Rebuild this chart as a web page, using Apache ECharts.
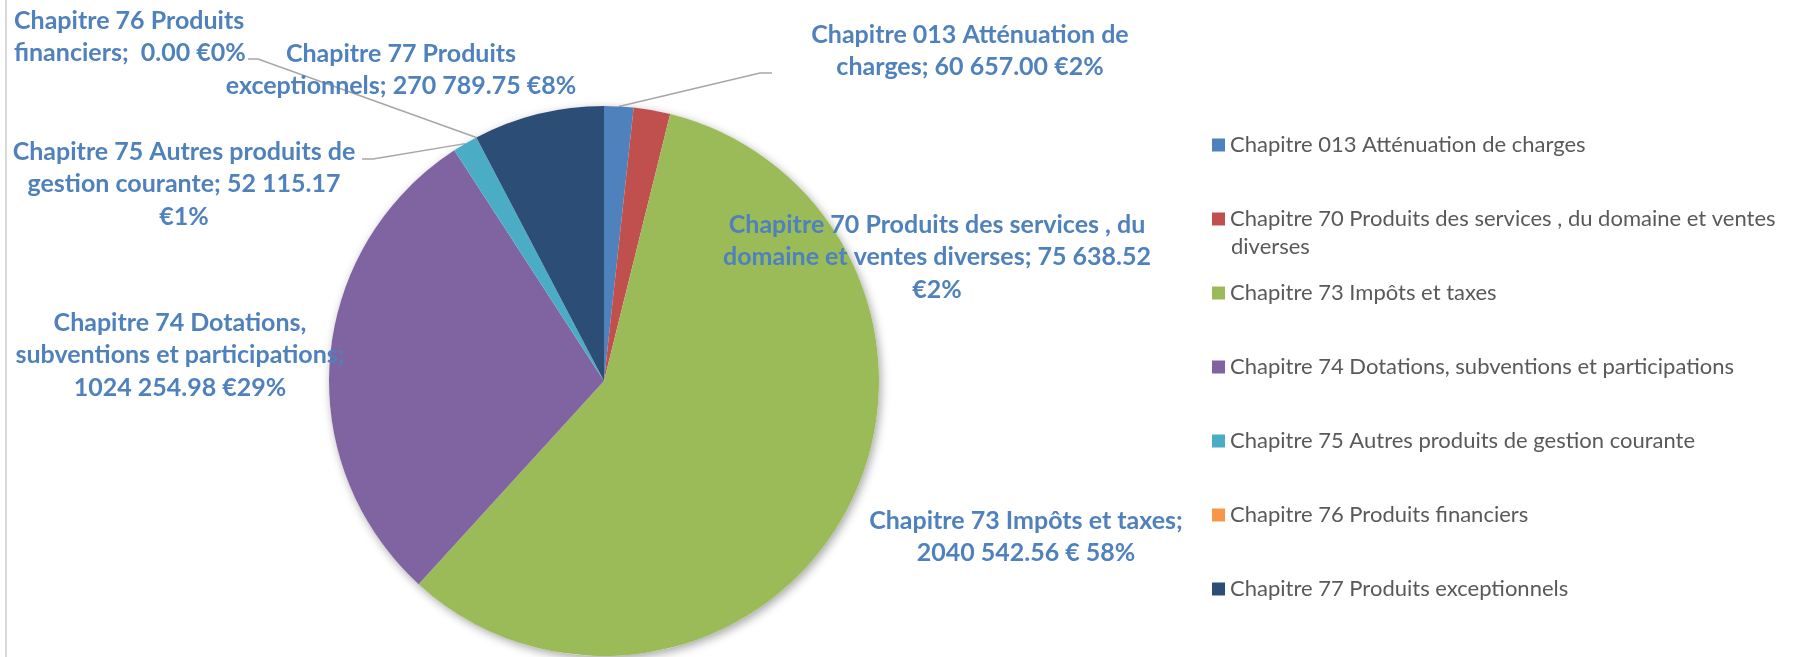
<!DOCTYPE html>
<html>
<head>
<meta charset="utf-8">
<script src="https://cdn.jsdelivr.net/npm/echarts@6/dist/echarts.min.js"></script>
<style>
  html, body { margin: 0; padding: 0; background: #fff; }
  #main { width: 1803px; height: 657px; }
</style>
</head>
<body>
<div id="main"></div>
<script>
// chapitres budgétaires (recettes)
const chapitres = [
  'Chapitre 013 Atténuation de charges',
  'Chapitre 70 Produits des services , du domaine et ventes diverses',
  'Chapitre 73 Impôts et taxes',
  'Chapitre 74 Dotations, subventions et participations',
  'Chapitre 75 Autres produits de gestion courante',
  'Chapitre 76 Produits financiers',
  'Chapitre 77 Produits exceptionnels'
]
const montants = [60657.00, 75638.52, 2040542.56, 1024254.98, 52115.17, 0.00, 270789.75]

// texte des étiquettes, {v} = montant, {p} = pourcentage
const etiquettes = [
  'Chapitre 013 Atténuation de\ncharges; {v} €{p}%',
  'Chapitre 70 Produits des services , du\ndomaine et ventes diverses; {v}\n€{p}%',
  'Chapitre 73 Impôts et taxes;\n{v} € {p}%',
  'Chapitre 74 Dotations,\nsubventions et participations;\n{v} €{p}%',
  'Chapitre 75 Autres produits de\ngestion courante; {v}\n€{p}%',
  'Chapitre 76 Produits\nfinanciers;  {v} €{p}%',
  'Chapitre 77 Produits\nexceptionnels; {v} €{p}%'
]

const couleurs = ['#4f81bd', '#c0504d', '#9bbb59', '#8064a2', '#4bacc6', '#f79646', '#2c4d75']

// positions des étiquettes (placées à la main comme dans Excel)
const posEtiquettes = [
  { x: 970, y: 51, align: 'center' },
  { x: 937, y: 257, align: 'center' },
  { x: 1026, y: 537, align: 'center' },
  { x: 180, y: 355, align: 'center' },
  { x: 184, y: 184, align: 'center' },
  { x: 14, y: 37, align: 'left' },
  { x: 401, y: 70, align: 'center' }
]
// fin des traits de rappel (coude puis extrémité côté étiquette)
const traits = [
  [[760, 73], [772, 73]],
  null,
  null,
  null,
  [[373, 159], [362, 159]],
  [[258, 59], [248, 59]],
  null
]

function formatMontant (v) {
  let s = v.toFixed(2)
  let ent = s.split('.')[0]
  let dec = s.split('.')[1]
  if (ent.length > 3) ent = ent.slice(0, ent.length - 3) + ' ' + ent.slice(ent.length - 3)
  return ent + '.' + dec
}

let chart = echarts.init(document.getElementById('main'))

let pieData = chapitres.map((name, i) => ({
  name: name,
  value: montants[i],
  itemStyle: { color: couleurs[i] },
  labelLine: { show: traits[i] != null }
}))
let total = montants.reduce((a, b) => a + b, 0)

chart.setOption({
  animation: false,
  backgroundColor: '#fff',
  textStyle: { fontFamily: 'Lato' },
  legend: {
    orient: 'vertical',
    left: 1212,
    top: 134,
    padding: 0,
    itemWidth: 13,
    itemHeight: 13,
    itemGap: 52,
    icon: 'rect',
    textStyle: { fontSize: 22, lineHeight: 22, color: '#595959', fontFamily: 'Lato' },
    formatter: function (name) {
      return name.replace(' ventes diverses', ' ventes')
    },
    data: chapitres
  },
  graphic: [
    { type: 'text', left: 1231, top: 236, style: { text: 'diverses', fontSize: 22, fill: '#595959', fontFamily: 'Lato' } },
    { type: 'rect', left: 5, top: 0, shape: { width: 2, height: 657 }, style: { fill: '#d9d9d9' } }
  ],
  series: [
    {
      // ombre du camembert
      type: 'pie',
      silent: true,
      center: [604, 381],
      radius: 275,
      z: 1,
      label: { show: false },
      labelLine: { show: false },
      itemStyle: { color: '#fff', shadowBlur: 10, shadowOffsetX: 2, shadowOffsetY: 3, shadowColor: 'rgba(0,0,0,0.35)' },
      data: [{ name: 'total', value: total }]
    },
    {
      type: 'pie',
      center: [604, 381],
      radius: 275,
      startAngle: 90,
      clockwise: true,
      z: 2,
      avoidLabelOverlap: false,
      itemStyle: { borderWidth: 0 },
      label: {
        show: true,
        position: 'outside',
        color: '#4f81bd',
        fontFamily: 'Lato',
        fontWeight: 'bold',
        fontSize: 25,
        lineHeight: 32.5,
        formatter: function (p) {
          return etiquettes[p.dataIndex]
            .replace('{v}', formatMontant(p.value))
            .replace('{p}', Math.round(p.percent))
        }
      },
      labelLine: {
        length: 20,
        length2: 10,
        lineStyle: { color: '#a6a6a6', width: 1.5 }
      },
      labelLayout: function (params) {
        let i = params.dataIndex
        let pos = posEtiquettes[i]
        let out = {
          x: pos.x,
          y: pos.y,
          align: pos.align,
          verticalAlign: 'middle'
        }
        if (traits[i] && params.labelLinePoints) {
          out.labelLinePoints = [params.labelLinePoints[0]].concat(traits[i])
        }
        return out
      },
      data: pieData
    }
  ]
})
</script>
</body>
</html>
